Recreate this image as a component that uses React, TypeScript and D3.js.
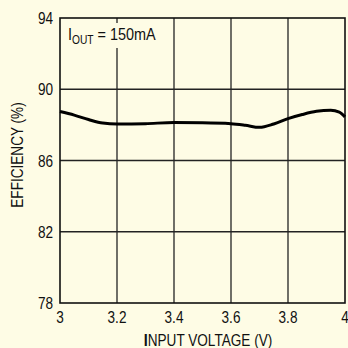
import React from 'react';
import * as d3 from 'd3';

const voltage = [3.0, 3.05, 3.1, 3.15, 3.2, 3.3, 3.4, 3.5, 3.6, 3.65, 3.7, 3.75, 3.8, 3.85, 3.9, 3.95, 3.98, 4.0];
const efficiency = [88.75, 88.55, 88.3, 88.1, 88.05, 88.07, 88.13, 88.12, 88.07, 87.98, 87.86, 88.05, 88.35, 88.58, 88.76, 88.82, 88.72, 88.45];
const xTicks = [3, 3.2, 3.4, 3.6, 3.8, 4];
const yTicks = [78, 82, 86, 90, 94];

const W = 348;
const H = 348;
const ml = 60, mr = 3, mt = 18, mb = 45;
const font = 'Liberation Sans, Arial, sans-serif';
const sx = 0.85;

const T: React.FC<{ x: number; y: number; anchor?: string; size?: number; rot?: number; children: React.ReactNode }> = ({ x, y, anchor = 'start', size = 16, rot = 0, children }) => (
  <text
    transform={`translate(${x},${y}) rotate(${rot}) scale(${sx},1)`}
    textAnchor={anchor}
    fontSize={size}
    fontFamily={font}
    fill="#111"
  >
    {children}
  </text>
);

export default function App() {
  const x = d3.scaleLinear().domain([3, 4]).range([ml, W - mr]);
  const y = d3.scaleLinear().domain([78, 94]).range([H - mb, mt]);
  const pts = voltage.map((v, i) => [v, efficiency[i]] as [number, number]);
  const line = d3.line<[number, number]>()
    .x(d => x(d[0]))
    .y(d => y(d[1]))
    .curve(d3.curveMonotoneX);

  return (
    <svg width={W} height={H} style={{ position: 'absolute', left: 0, top: 0, background: '#fefce5' }}>
      <rect x={0} y={0} width={W} height={H} fill="#fefce5" />
      {xTicks.slice(1, -1).map(t => (
        <line key={'gx' + t} x1={x(t)} x2={x(t)} y1={y(78)} y2={y(94)} stroke="#222" strokeWidth={1.3} />
      ))}
      {yTicks.slice(1, -1).map(t => (
        <line key={'gy' + t} x1={x(3)} x2={x(4)} y1={y(t)} y2={y(t)} stroke="#222" strokeWidth={1.3} />
      ))}
      <rect x={x(3)} y={y(94)} width={x(4) - x(3)} height={y(78) - y(94)} fill="none" stroke="#111" strokeWidth={1.6} />
      {/* annotation box behind the label cuts the 3.2 grid line */}
      <rect x={x(3) + 4} y={y(94) + 5} width={104} height={25} fill="#fefce5" />
      <path d={line(pts) ?? ''} fill="none" stroke="#000" strokeWidth={3} strokeLinejoin="round" />
      {yTicks.map(t => (
        <T key={'ty' + t} x={x(3) - 7} y={y(t) + 6} anchor="end">{t}</T>
      ))}
      {xTicks.map(t => (
        <T key={'tx' + t} x={x(t)} y={323} anchor="middle">{String(t)}</T>
      ))}
      <T x={208} y={346} anchor="middle">
        <tspan fontWeight="bold" fontSize={17}>I</tspan>NPUT VOLTAGE (V)
      </T>
      <T x={23} y={155} anchor="middle" rot={-90}>EFFICIENCY (%)</T>
      <T x={68} y={40} size={17}>
        I<tspan fontSize={12} dy={4}>OUT</tspan><tspan dy={-4}> = 150mA</tspan>
      </T>
    </svg>
  );
}
